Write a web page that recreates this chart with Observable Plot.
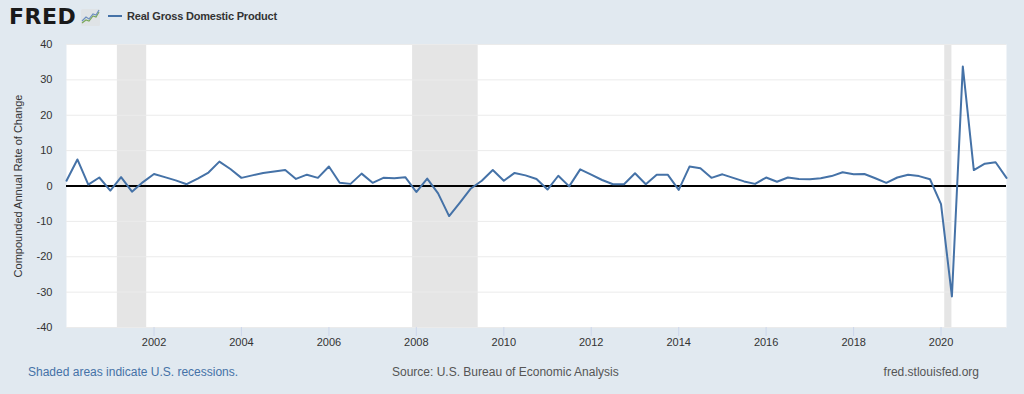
<!DOCTYPE html>
<html>
<head>
<meta charset="utf-8">
<script src="https://cdn.jsdelivr.net/npm/d3@7"></script>
<script src="https://cdn.jsdelivr.net/npm/@observablehq/plot@0.6"></script>
<style>
  html, body { margin: 0; padding: 0; background: #e1e9f0; width: 1024px; height: 394px; overflow: hidden; font-family: "Liberation Sans", Arial, sans-serif; }
  #header { position: relative; height: 30px; }
  #logo { position: absolute; left: 9px; top: 4px; font-family: "DejaVu Sans", sans-serif; font-weight: bold; font-size: 22px; letter-spacing: 0.5px; color: #1a1a1a; }
  #icon { position: absolute; left: 81px; top: 9px; }
  #legend { position: absolute; left: 108px; top: 10px; font-size: 11px; font-weight: bold; color: #333; letter-spacing: -0.2px; }
  #legend .sw { display: inline-block; width: 14px; height: 2px; background: #4572a7; vertical-align: middle; margin-right: 5px; position: relative; top: -1px; }
  #footer { position: relative; height: 42px; font-size: 12px; }
  #footer span { position: absolute; top: 13px; }
</style>
</head>
<body>
<div id="header">
  <div id="logo">FRED</div>
  <svg id="icon" width="19" height="17" viewBox="0 0 19 17">
    <rect x="0" y="0" width="19" height="17" rx="1.5" fill="#dfe3e6"/>
    <polyline points="1,14 5,11 8,12 12,7 15,8 18,3" fill="none" stroke="#7aa85a" stroke-width="1.2"/>
    <polyline points="1,12 5,8 8,10 12,5 15,6 18,1" fill="none" stroke="#6d8fbf" stroke-width="1.2"/>
  </svg>
  <div id="legend"><span class="sw"></span>Real Gross Domestic Product</div>
</div>
<div id="chart"></div>
<div id="footer">
  <span style="left:28px;color:#4572a7;">Shaded areas indicate U.S. recessions.</span>
  <span style="left:392px;color:#555;">Source: U.S. Bureau of Economic Analysis</span>
  <span style="right:45px;color:#555;">fred.stlouisfed.org</span>
</div>
<script>
// Real GDP, compounded annual rate of change, quarterly, 2000 Q1 .. 2021 Q3
const firstYear = 2000;
const gdpGrowth = [
  1.5, 7.5, 0.4, 2.4,     // 2000
  -1.3, 2.5, -1.6, 1.1,   // 2001
  3.4, 2.5, 1.6, 0.5,     // 2002
  2.1, 3.8, 6.9, 4.8,     // 2003
  2.3, 3.0, 3.7, 4.1,     // 2004
  4.5, 2.0, 3.2, 2.3,     // 2005
  5.5, 0.9, 0.6, 3.5,     // 2006
  0.9, 2.3, 2.2, 2.5,     // 2007
  -1.7, 2.1, -2.1, -8.5,  // 2008
  -4.6, -0.7, 1.5, 4.5,   // 2009
  1.5, 3.7, 3.0, 2.0,     // 2010
  -1.0, 2.9, -0.1, 4.7,   // 2011
  3.2, 1.7, 0.5, 0.5,     // 2012
  3.6, 0.5, 3.2, 3.2,     // 2013
  -1.1, 5.5, 5.0, 2.3,    // 2014
  3.3, 2.3, 1.3, 0.6,     // 2015
  2.4, 1.2, 2.4, 2.0,     // 2016
  1.9, 2.2, 2.8, 3.9,     // 2017
  3.3, 3.4, 2.2, 0.9,     // 2018
  2.4, 3.2, 2.8, 1.9,     // 2019
  -5.1, -31.2, 33.8, 4.5, // 2020
  6.3, 6.7, 2.3           // 2021
];
const recessionStart = ["2001-03-01", "2007-12-01", "2020-02-01"];
const recessionEnd   = ["2001-11-01", "2009-06-01", "2020-04-01"];
const xTickYears = [2002, 2004, 2006, 2008, 2010, 2012, 2014, 2016, 2018, 2020];
const yTicks = [-40, -30, -20, -10, 0, 10, 20, 30, 40];
const yLabel = "Compounded Annual Rate of Change";

const data = gdpGrowth.map((v, i) => ({
  date: new Date(Date.UTC(firstYear + Math.floor(i / 4), (i % 4) * 3, 1)),
  value: v
}));
const recessions = recessionStart.map((s, i) => ({ start: new Date(s), end: new Date(recessionEnd[i]) }));
const xDomain = [data[0].date, data[data.length - 1].date];

const chart = Plot.plot({
  width: 1024,
  height: 322,
  marginTop: 14,
  marginBottom: 25,
  marginLeft: 66,
  marginRight: 18,
  style: { background: "transparent", fontFamily: "'Liberation Sans', Arial, sans-serif", color: "#333" },
  x: { type: "utc", domain: xDomain },
  y: { domain: [-40, 40] },
  marks: [
    Plot.frame({ fill: "white", stroke: null }),
    Plot.rect(recessions, { x1: "start", x2: "end", fill: "#e5e5e5" }),
    Plot.gridY(yTicks, { stroke: "#ebebeb", strokeOpacity: 1, strokeWidth: 1 }),
    Plot.axisY(yTicks, { tickSize: 0, tickPadding: 14, fontSize: 11, fill: "#333", tickFormat: d => String(d), label: null }),
    Plot.text([yLabel], { frameAnchor: "left", textAnchor: "middle", dx: -48, rotate: -90, fontSize: 11, fill: "#333", text: d => d }),
    Plot.axisX(xTickYears.map(y => new Date(Date.UTC(y, 0, 1))), { tickFormat: d3.utcFormat("%Y"), tickSize: 9, tickPadding: 2, stroke: "#ccd6eb", fill: "#333", fontSize: 11, label: null }),
    Plot.ruleY([0], { stroke: "black", strokeWidth: 2 }),
    Plot.line(data, { x: "date", y: "value", stroke: "#4572a7", strokeWidth: 2 })
  ]
});
document.getElementById("chart").appendChild(chart);
</script>
</body>
</html>
